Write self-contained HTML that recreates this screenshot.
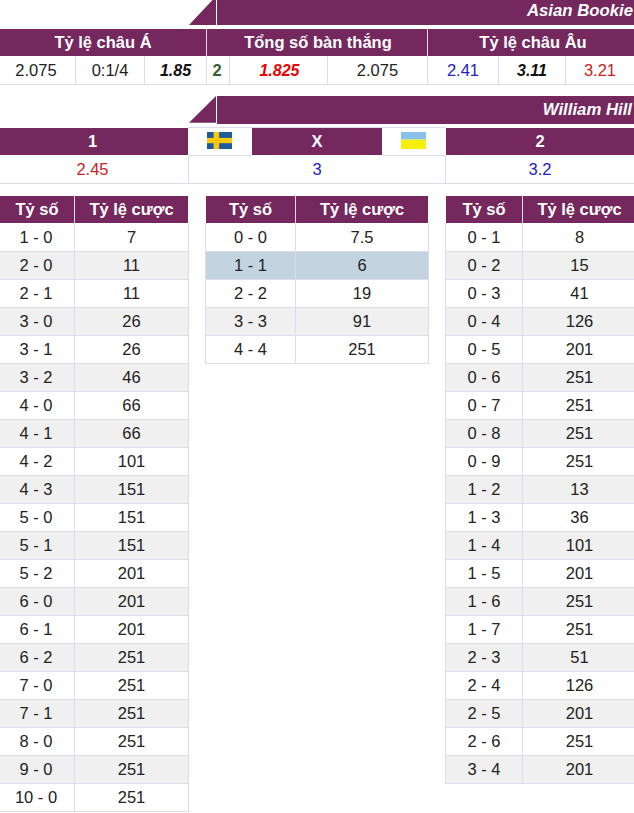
<!DOCTYPE html>
<html><head><meta charset="utf-8">
<style>
*{margin:0;padding:0;box-sizing:border-box}
html,body{width:634px;height:813px;overflow:hidden;background:#fff}
body{position:relative;font-family:"Liberation Sans",Arial,sans-serif;font-size:16.5px;color:#222}
.w{font-size:16.5px}
.th{font-size:16.5px}
.a{position:absolute}
.p{background:#74285e}
.c{position:absolute;text-align:center;white-space:nowrap}
.w{color:#fff;font-weight:bold}
.bi{font-weight:bold;font-style:italic;font-size:16px}
.vl{position:absolute;width:1px}
.hl{position:absolute;height:1px}
.bd{background:#dcdcee}
.hd{background:#f2d6f0}
.bk{font-size:16.75px}
</style></head><body>
<!-- Asian Bookie bar -->
<svg class="a" style="left:0;top:0" width="634" height="130">
<polygon points="189,25 212.5,0 216,0 216,25" fill="#74285e"/>
<polygon points="189,122.8 216,96 216,122.8" fill="#74285e"/>
</svg>
<div class="a p" style="left:217px;top:0;width:417px;height:25px"></div>
<div class="a w bi bk" style="right:1px;top:1px;height:20px;line-height:20px">Asian Bookie</div>

<!-- header row -->
<div class="a p" style="left:0;top:29px;width:634px;height:27px"></div>
<div class="vl hd" style="left:206px;top:29px;height:27px"></div>
<div class="vl hd" style="left:427px;top:29px;height:27px"></div>
<div class="c w th" style="left:0;width:206px;top:29px;line-height:27px">Tỷ lệ châu Á</div>
<div class="c w th" style="left:208px;width:220px;top:29px;line-height:27px">Tổng số bàn thắng</div>
<div class="c w th" style="left:430px;width:206px;top:29px;line-height:27px">Tỷ lệ châu Âu</div>

<!-- data row -->
<div class="hl bd" style="left:0;top:84px;width:634px"></div>
<div class="vl bd" style="left:75px;top:56px;height:28px"></div>
<div class="vl bd" style="left:144px;top:56px;height:28px"></div>
<div class="vl bd" style="left:206px;top:56px;height:28px"></div>
<div class="vl bd" style="left:229px;top:56px;height:28px"></div>
<div class="vl bd" style="left:327px;top:56px;height:28px"></div>
<div class="vl bd" style="left:427px;top:56px;height:28px"></div>
<div class="vl bd" style="left:498px;top:56px;height:28px"></div>
<div class="vl bd" style="left:565px;top:56px;height:28px"></div>
<div class="c" style="left:0;width:72px;top:56px;line-height:28px">2.075</div>
<div class="c" style="left:76px;width:68px;top:56px;line-height:28px">0:1/4</div>
<div class="c bi" style="left:145px;width:61px;top:57px;line-height:28px;color:#111">1.85</div>
<div class="c" style="left:206px;width:22px;top:56px;line-height:28px;color:#2f5f2a;font-weight:bold">2</div>
<div class="c bi" style="left:231px;width:97px;top:57px;line-height:28px;color:#e00">1.825</div>
<div class="c" style="left:328px;width:99px;top:56px;line-height:28px">2.075</div>
<div class="c" style="left:428px;width:70px;top:56px;line-height:28px;color:#2222c4">2.41</div>
<div class="c bi" style="left:499px;width:66px;top:57px;line-height:28px;color:#111">3.11</div>
<div class="c" style="left:566px;width:68px;top:56px;line-height:28px;color:#c82222">3.21</div>

<!-- William Hill bar -->
<div class="a p" style="left:217px;top:96px;width:417px;height:28px"></div>
<div class="a w bi bk" style="right:2px;top:96px;height:28px;line-height:28px">William Hill</div>

<!-- 1 X 2 row -->
<div class="a p" style="left:0;top:128px;width:188px;height:27px"></div>
<div class="a p" style="left:252px;top:128px;width:130px;height:27px"></div>
<div class="a p" style="left:446px;top:128px;width:188px;height:27px"></div>
<div class="hl bd" style="left:188px;top:127px;width:258px"></div>
<div class="hl bd" style="left:188px;top:155px;width:64px"></div>
<div class="hl bd" style="left:382px;top:155px;width:64px"></div>
<div class="c w" style="left:0;width:185px;top:128px;line-height:27px">1</div>
<div class="c w" style="left:252px;width:130px;top:128px;line-height:27px">X</div>
<div class="c w" style="left:446px;width:188px;top:128px;line-height:27px">2</div>
<!-- flags -->
<svg class="a" style="left:207px;top:132px" width="25" height="17" viewBox="0 0 25 17">
<rect width="25" height="17" fill="#1d5b9e"/><rect x="6.6" width="5.5" height="17" fill="#fbc90a"/><rect y="5.9" width="25" height="5.3" fill="#fbc90a"/>
</svg>
<svg class="a" style="left:401px;top:132px" width="25" height="17" viewBox="0 0 25 17">
<rect width="25" height="7.6" fill="#8ac0ec"/><rect y="7.6" width="25" height="9.4" fill="#f6ef0c"/>
</svg>
<!-- value row -->
<div class="hl bd" style="left:0;top:183px;width:634px"></div>
<div class="vl bd" style="left:188px;top:155px;height:28px"></div>
<div class="vl bd" style="left:445px;top:155px;height:28px"></div>
<div class="c" style="left:0;width:185px;top:155px;line-height:28px;color:#c82222">2.45</div>
<div class="c" style="left:189px;width:256px;top:155px;line-height:28px;color:#2222c4">3</div>
<div class="c" style="left:446px;width:188px;top:155px;line-height:28px;color:#2222c4">3.2</div>

<div id="tables">
<div class="a p" style="left:0px;top:196px;width:188px;height:27px"></div>
<div class="vl hd" style="left:74px;top:196px;height:27px"></div>
<div class="c w" style="left:0px;width:74px;top:196px;line-height:27px">Tỷ số</div>
<div class="c w" style="left:75px;width:113px;top:196px;line-height:27px">Tỷ lệ cược</div>
<div class="c" style="left:-1px;width:74px;top:223px;line-height:28px">1 - 0</div>
<div class="c" style="left:75px;width:113px;top:223px;line-height:28px">7</div>
<div class="a" style="left:-1px;top:251px;width:190px;height:28px;background:#f0f0f0"></div>
<div class="hl bd" style="left:-1px;top:251px;width:190px"></div>
<div class="c" style="left:-1px;width:74px;top:251px;line-height:28px">2 - 0</div>
<div class="c" style="left:75px;width:113px;top:251px;line-height:28px">11</div>
<div class="hl bd" style="left:-1px;top:279px;width:190px"></div>
<div class="c" style="left:-1px;width:74px;top:279px;line-height:28px">2 - 1</div>
<div class="c" style="left:75px;width:113px;top:279px;line-height:28px">11</div>
<div class="a" style="left:-1px;top:307px;width:190px;height:28px;background:#f0f0f0"></div>
<div class="hl bd" style="left:-1px;top:307px;width:190px"></div>
<div class="c" style="left:-1px;width:74px;top:307px;line-height:28px">3 - 0</div>
<div class="c" style="left:75px;width:113px;top:307px;line-height:28px">26</div>
<div class="hl bd" style="left:-1px;top:335px;width:190px"></div>
<div class="c" style="left:-1px;width:74px;top:335px;line-height:28px">3 - 1</div>
<div class="c" style="left:75px;width:113px;top:335px;line-height:28px">26</div>
<div class="a" style="left:-1px;top:363px;width:190px;height:28px;background:#f0f0f0"></div>
<div class="hl bd" style="left:-1px;top:363px;width:190px"></div>
<div class="c" style="left:-1px;width:74px;top:363px;line-height:28px">3 - 2</div>
<div class="c" style="left:75px;width:113px;top:363px;line-height:28px">46</div>
<div class="hl bd" style="left:-1px;top:391px;width:190px"></div>
<div class="c" style="left:-1px;width:74px;top:391px;line-height:28px">4 - 0</div>
<div class="c" style="left:75px;width:113px;top:391px;line-height:28px">66</div>
<div class="a" style="left:-1px;top:419px;width:190px;height:28px;background:#f0f0f0"></div>
<div class="hl bd" style="left:-1px;top:419px;width:190px"></div>
<div class="c" style="left:-1px;width:74px;top:419px;line-height:28px">4 - 1</div>
<div class="c" style="left:75px;width:113px;top:419px;line-height:28px">66</div>
<div class="hl bd" style="left:-1px;top:447px;width:190px"></div>
<div class="c" style="left:-1px;width:74px;top:447px;line-height:28px">4 - 2</div>
<div class="c" style="left:75px;width:113px;top:447px;line-height:28px">101</div>
<div class="a" style="left:-1px;top:475px;width:190px;height:28px;background:#f0f0f0"></div>
<div class="hl bd" style="left:-1px;top:475px;width:190px"></div>
<div class="c" style="left:-1px;width:74px;top:475px;line-height:28px">4 - 3</div>
<div class="c" style="left:75px;width:113px;top:475px;line-height:28px">151</div>
<div class="hl bd" style="left:-1px;top:503px;width:190px"></div>
<div class="c" style="left:-1px;width:74px;top:503px;line-height:28px">5 - 0</div>
<div class="c" style="left:75px;width:113px;top:503px;line-height:28px">151</div>
<div class="a" style="left:-1px;top:531px;width:190px;height:28px;background:#f0f0f0"></div>
<div class="hl bd" style="left:-1px;top:531px;width:190px"></div>
<div class="c" style="left:-1px;width:74px;top:531px;line-height:28px">5 - 1</div>
<div class="c" style="left:75px;width:113px;top:531px;line-height:28px">151</div>
<div class="hl bd" style="left:-1px;top:559px;width:190px"></div>
<div class="c" style="left:-1px;width:74px;top:559px;line-height:28px">5 - 2</div>
<div class="c" style="left:75px;width:113px;top:559px;line-height:28px">201</div>
<div class="a" style="left:-1px;top:587px;width:190px;height:28px;background:#f0f0f0"></div>
<div class="hl bd" style="left:-1px;top:587px;width:190px"></div>
<div class="c" style="left:-1px;width:74px;top:587px;line-height:28px">6 - 0</div>
<div class="c" style="left:75px;width:113px;top:587px;line-height:28px">201</div>
<div class="hl bd" style="left:-1px;top:615px;width:190px"></div>
<div class="c" style="left:-1px;width:74px;top:615px;line-height:28px">6 - 1</div>
<div class="c" style="left:75px;width:113px;top:615px;line-height:28px">201</div>
<div class="a" style="left:-1px;top:643px;width:190px;height:28px;background:#f0f0f0"></div>
<div class="hl bd" style="left:-1px;top:643px;width:190px"></div>
<div class="c" style="left:-1px;width:74px;top:643px;line-height:28px">6 - 2</div>
<div class="c" style="left:75px;width:113px;top:643px;line-height:28px">251</div>
<div class="hl bd" style="left:-1px;top:671px;width:190px"></div>
<div class="c" style="left:-1px;width:74px;top:671px;line-height:28px">7 - 0</div>
<div class="c" style="left:75px;width:113px;top:671px;line-height:28px">251</div>
<div class="a" style="left:-1px;top:699px;width:190px;height:28px;background:#f0f0f0"></div>
<div class="hl bd" style="left:-1px;top:699px;width:190px"></div>
<div class="c" style="left:-1px;width:74px;top:699px;line-height:28px">7 - 1</div>
<div class="c" style="left:75px;width:113px;top:699px;line-height:28px">251</div>
<div class="hl bd" style="left:-1px;top:727px;width:190px"></div>
<div class="c" style="left:-1px;width:74px;top:727px;line-height:28px">8 - 0</div>
<div class="c" style="left:75px;width:113px;top:727px;line-height:28px">251</div>
<div class="a" style="left:-1px;top:755px;width:190px;height:28px;background:#f0f0f0"></div>
<div class="hl bd" style="left:-1px;top:755px;width:190px"></div>
<div class="c" style="left:-1px;width:74px;top:755px;line-height:28px">9 - 0</div>
<div class="c" style="left:75px;width:113px;top:755px;line-height:28px">251</div>
<div class="hl bd" style="left:-1px;top:783px;width:190px"></div>
<div class="c" style="left:-1px;width:74px;top:783px;line-height:28px">10 - 0</div>
<div class="c" style="left:75px;width:113px;top:783px;line-height:28px">251</div>
<div class="hl bd" style="left:-1px;top:811px;width:190px"></div>
<div class="vl bd" style="left:-1px;top:223px;height:589px"></div>
<div class="vl bd" style="left:74px;top:223px;height:589px"></div>
<div class="vl bd" style="left:188px;top:223px;height:589px"></div>
<div class="a p" style="left:206px;top:196px;width:222px;height:27px"></div>
<div class="vl hd" style="left:295px;top:196px;height:27px"></div>
<div class="c w" style="left:206px;width:89px;top:196px;line-height:27px">Tỷ số</div>
<div class="c w" style="left:296px;width:132px;top:196px;line-height:27px">Tỷ lệ cược</div>
<div class="c" style="left:206px;width:89px;top:223px;line-height:28px">0 - 0</div>
<div class="c" style="left:296px;width:132px;top:223px;line-height:28px">7.5</div>
<div class="a" style="left:205px;top:251px;width:224px;height:28px;background:#c3d4e0"></div>
<div class="hl bd" style="left:205px;top:251px;width:224px"></div>
<div class="c" style="left:206px;width:89px;top:251px;line-height:28px">1 - 1</div>
<div class="c" style="left:296px;width:132px;top:251px;line-height:28px">6</div>
<div class="hl bd" style="left:205px;top:279px;width:224px"></div>
<div class="c" style="left:206px;width:89px;top:279px;line-height:28px">2 - 2</div>
<div class="c" style="left:296px;width:132px;top:279px;line-height:28px">19</div>
<div class="a" style="left:205px;top:307px;width:224px;height:28px;background:#f0f0f0"></div>
<div class="hl bd" style="left:205px;top:307px;width:224px"></div>
<div class="c" style="left:206px;width:89px;top:307px;line-height:28px">3 - 3</div>
<div class="c" style="left:296px;width:132px;top:307px;line-height:28px">91</div>
<div class="hl bd" style="left:205px;top:335px;width:224px"></div>
<div class="c" style="left:206px;width:89px;top:335px;line-height:28px">4 - 4</div>
<div class="c" style="left:296px;width:132px;top:335px;line-height:28px">251</div>
<div class="hl bd" style="left:205px;top:363px;width:224px"></div>
<div class="vl bd" style="left:205px;top:223px;height:141px"></div>
<div class="vl bd" style="left:295px;top:223px;height:141px"></div>
<div class="vl bd" style="left:428px;top:223px;height:141px"></div>
<div class="a p" style="left:446px;top:196px;width:190px;height:27px"></div>
<div class="vl hd" style="left:522px;top:196px;height:27px"></div>
<div class="c w" style="left:446px;width:76px;top:196px;line-height:27px">Tỷ số</div>
<div class="c w" style="left:523px;width:113px;top:196px;line-height:27px">Tỷ lệ cược</div>
<div class="c" style="left:446px;width:76px;top:223px;line-height:28px">0 - 1</div>
<div class="c" style="left:523px;width:113px;top:223px;line-height:28px">8</div>
<div class="a" style="left:445px;top:251px;width:192px;height:28px;background:#f0f0f0"></div>
<div class="hl bd" style="left:445px;top:251px;width:192px"></div>
<div class="c" style="left:446px;width:76px;top:251px;line-height:28px">0 - 2</div>
<div class="c" style="left:523px;width:113px;top:251px;line-height:28px">15</div>
<div class="hl bd" style="left:445px;top:279px;width:192px"></div>
<div class="c" style="left:446px;width:76px;top:279px;line-height:28px">0 - 3</div>
<div class="c" style="left:523px;width:113px;top:279px;line-height:28px">41</div>
<div class="a" style="left:445px;top:307px;width:192px;height:28px;background:#f0f0f0"></div>
<div class="hl bd" style="left:445px;top:307px;width:192px"></div>
<div class="c" style="left:446px;width:76px;top:307px;line-height:28px">0 - 4</div>
<div class="c" style="left:523px;width:113px;top:307px;line-height:28px">126</div>
<div class="hl bd" style="left:445px;top:335px;width:192px"></div>
<div class="c" style="left:446px;width:76px;top:335px;line-height:28px">0 - 5</div>
<div class="c" style="left:523px;width:113px;top:335px;line-height:28px">201</div>
<div class="a" style="left:445px;top:363px;width:192px;height:28px;background:#f0f0f0"></div>
<div class="hl bd" style="left:445px;top:363px;width:192px"></div>
<div class="c" style="left:446px;width:76px;top:363px;line-height:28px">0 - 6</div>
<div class="c" style="left:523px;width:113px;top:363px;line-height:28px">251</div>
<div class="hl bd" style="left:445px;top:391px;width:192px"></div>
<div class="c" style="left:446px;width:76px;top:391px;line-height:28px">0 - 7</div>
<div class="c" style="left:523px;width:113px;top:391px;line-height:28px">251</div>
<div class="a" style="left:445px;top:419px;width:192px;height:28px;background:#f0f0f0"></div>
<div class="hl bd" style="left:445px;top:419px;width:192px"></div>
<div class="c" style="left:446px;width:76px;top:419px;line-height:28px">0 - 8</div>
<div class="c" style="left:523px;width:113px;top:419px;line-height:28px">251</div>
<div class="hl bd" style="left:445px;top:447px;width:192px"></div>
<div class="c" style="left:446px;width:76px;top:447px;line-height:28px">0 - 9</div>
<div class="c" style="left:523px;width:113px;top:447px;line-height:28px">251</div>
<div class="a" style="left:445px;top:475px;width:192px;height:28px;background:#f0f0f0"></div>
<div class="hl bd" style="left:445px;top:475px;width:192px"></div>
<div class="c" style="left:446px;width:76px;top:475px;line-height:28px">1 - 2</div>
<div class="c" style="left:523px;width:113px;top:475px;line-height:28px">13</div>
<div class="hl bd" style="left:445px;top:503px;width:192px"></div>
<div class="c" style="left:446px;width:76px;top:503px;line-height:28px">1 - 3</div>
<div class="c" style="left:523px;width:113px;top:503px;line-height:28px">36</div>
<div class="a" style="left:445px;top:531px;width:192px;height:28px;background:#f0f0f0"></div>
<div class="hl bd" style="left:445px;top:531px;width:192px"></div>
<div class="c" style="left:446px;width:76px;top:531px;line-height:28px">1 - 4</div>
<div class="c" style="left:523px;width:113px;top:531px;line-height:28px">101</div>
<div class="hl bd" style="left:445px;top:559px;width:192px"></div>
<div class="c" style="left:446px;width:76px;top:559px;line-height:28px">1 - 5</div>
<div class="c" style="left:523px;width:113px;top:559px;line-height:28px">201</div>
<div class="a" style="left:445px;top:587px;width:192px;height:28px;background:#f0f0f0"></div>
<div class="hl bd" style="left:445px;top:587px;width:192px"></div>
<div class="c" style="left:446px;width:76px;top:587px;line-height:28px">1 - 6</div>
<div class="c" style="left:523px;width:113px;top:587px;line-height:28px">251</div>
<div class="hl bd" style="left:445px;top:615px;width:192px"></div>
<div class="c" style="left:446px;width:76px;top:615px;line-height:28px">1 - 7</div>
<div class="c" style="left:523px;width:113px;top:615px;line-height:28px">251</div>
<div class="a" style="left:445px;top:643px;width:192px;height:28px;background:#f0f0f0"></div>
<div class="hl bd" style="left:445px;top:643px;width:192px"></div>
<div class="c" style="left:446px;width:76px;top:643px;line-height:28px">2 - 3</div>
<div class="c" style="left:523px;width:113px;top:643px;line-height:28px">51</div>
<div class="hl bd" style="left:445px;top:671px;width:192px"></div>
<div class="c" style="left:446px;width:76px;top:671px;line-height:28px">2 - 4</div>
<div class="c" style="left:523px;width:113px;top:671px;line-height:28px">126</div>
<div class="a" style="left:445px;top:699px;width:192px;height:28px;background:#f0f0f0"></div>
<div class="hl bd" style="left:445px;top:699px;width:192px"></div>
<div class="c" style="left:446px;width:76px;top:699px;line-height:28px">2 - 5</div>
<div class="c" style="left:523px;width:113px;top:699px;line-height:28px">201</div>
<div class="hl bd" style="left:445px;top:727px;width:192px"></div>
<div class="c" style="left:446px;width:76px;top:727px;line-height:28px">2 - 6</div>
<div class="c" style="left:523px;width:113px;top:727px;line-height:28px">251</div>
<div class="a" style="left:445px;top:755px;width:192px;height:28px;background:#f0f0f0"></div>
<div class="hl bd" style="left:445px;top:755px;width:192px"></div>
<div class="c" style="left:446px;width:76px;top:755px;line-height:28px">3 - 4</div>
<div class="c" style="left:523px;width:113px;top:755px;line-height:28px">201</div>
<div class="hl bd" style="left:445px;top:783px;width:192px"></div>
<div class="vl bd" style="left:445px;top:223px;height:561px"></div>
<div class="vl bd" style="left:522px;top:223px;height:561px"></div>
<div class="vl bd" style="left:636px;top:223px;height:561px"></div>
</div><!--end-->
</body></html>
